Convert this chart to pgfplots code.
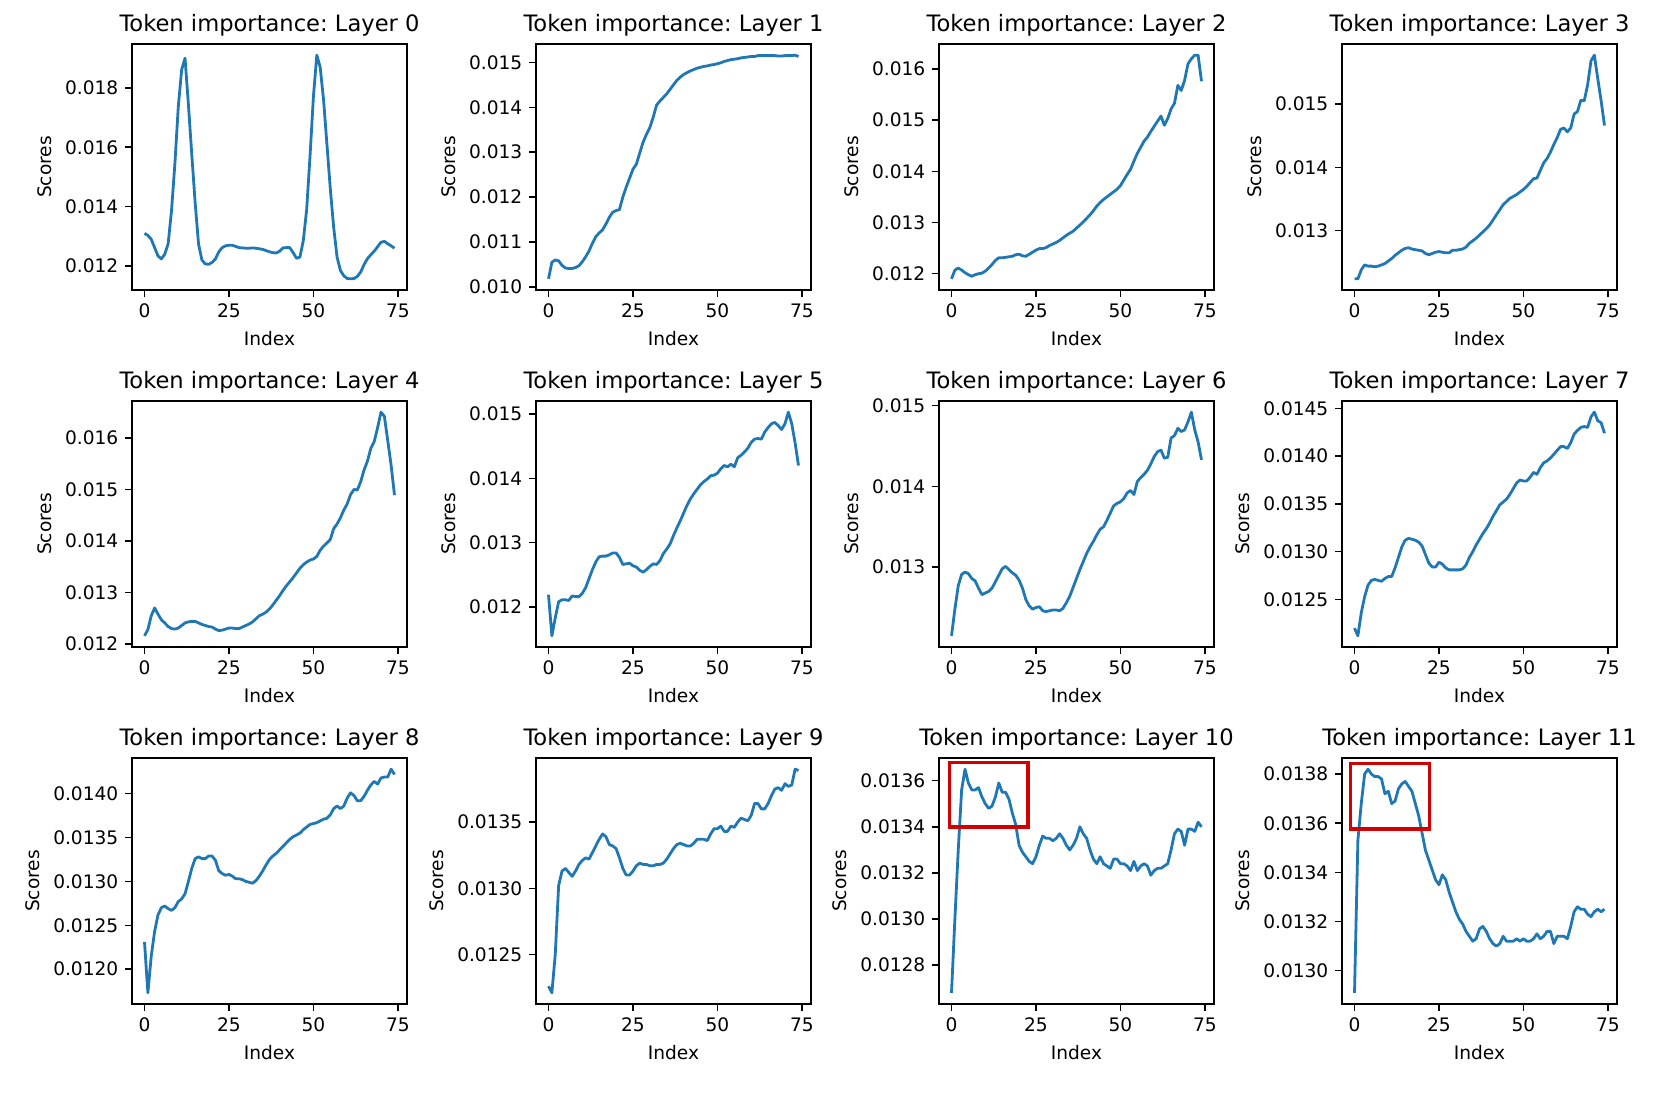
\documentclass[border=0pt]{standalone}
\usepackage{fontspec}
\setmainfont{DejaVu Sans}
\usepackage{pgfplots}
\usepackage{pgfplotstable}
\pgfplotsset{compat=1.18}
\definecolor{mplblue}{RGB}{31,119,180}
\definecolor{boxred}{RGB}{210,0,0}
\frenchspacing

\pgfplotstableread{
idx L0 L1 L2 L3 L4 L5 L6 L7 L8 L9 L10 L11
0 0.01310 0.01018 0.01190 0.01224 0.01216 0.01219 0.01215 0.01220 0.01231 0.01226 0.01268 0.01291
1 0.01303 0.01055 0.01207 0.01224 0.01228 0.01155 0.01248 0.01212 0.01173 0.01221 0.01300 0.01353
2 0.01290 0.01060 0.01211 0.01238 0.01255 0.01183 0.01277 0.01236 0.01215 0.01250 0.01330 0.01368
3 0.01262 0.01058 0.01207 0.01246 0.01270 0.01208 0.01291 0.01253 0.01243 0.01302 0.01356 0.01380
4 0.01234 0.01048 0.01202 0.01244 0.01258 0.01211 0.01294 0.01265 0.01262 0.01313 0.01365 0.01382
5 0.01224 0.01042 0.01198 0.01244 0.01247 0.01211 0.01292 0.01270 0.01270 0.01315 0.01359 0.01380
6 0.01240 0.01041 0.01195 0.01243 0.01241 0.01210 0.01286 0.01271 0.01272 0.01312 0.01356 0.01379
7 0.01275 0.01041 0.01198 0.01244 0.01234 0.01217 0.01283 0.01270 0.01269 0.01309 0.01356 0.01379
8 0.01387 0.01043 0.01200 0.01246 0.01230 0.01216 0.01274 0.01269 0.01267 0.01313 0.01357 0.01378
9 0.01545 0.01047 0.01201 0.01248 0.01229 0.01216 0.01266 0.01272 0.01270 0.01318 0.01353 0.01372
10 0.01736 0.01056 0.01205 0.01252 0.01231 0.01221 0.01268 0.01274 0.01277 0.01321 0.01350 0.01373
11 0.01861 0.01067 0.01211 0.01256 0.01236 0.01230 0.01270 0.01274 0.01280 0.01323 0.01348 0.01368
12 0.01900 0.01080 0.01218 0.01261 0.01241 0.01244 0.01274 0.01283 0.01286 0.01322 0.01349 0.01369
13 0.01743 0.01097 0.01226 0.01265 0.01243 0.01258 0.01282 0.01294 0.01300 0.01327 0.01353 0.01374
14 0.01575 0.01112 0.01231 0.01269 0.01244 0.01270 0.01290 0.01305 0.01315 0.01332 0.01359 0.01376
15 0.01412 0.01120 0.01231 0.01272 0.01244 0.01278 0.01298 0.01312 0.01326 0.01337 0.01355 0.01377
16 0.01274 0.01127 0.01232 0.01273 0.01241 0.01279 0.01301 0.01314 0.01328 0.01341 0.01355 0.01375
17 0.01220 0.01140 0.01233 0.01271 0.01238 0.01279 0.01297 0.01313 0.01326 0.01339 0.01352 0.01373
18 0.01207 0.01155 0.01234 0.01270 0.01236 0.01281 0.01293 0.01312 0.01326 0.01333 0.01346 0.01368
19 0.01206 0.01166 0.01237 0.01269 0.01234 0.01284 0.01290 0.01310 0.01329 0.01332 0.01341 0.01363
20 0.01212 0.01170 0.01238 0.01268 0.01233 0.01284 0.01284 0.01306 0.01329 0.01330 0.01332 0.01356
21 0.01224 0.01172 0.01235 0.01264 0.01229 0.01277 0.01274 0.01297 0.01324 0.01323 0.01329 0.01349
22 0.01248 0.01200 0.01234 0.01262 0.01226 0.01266 0.01260 0.01288 0.01312 0.01315 0.01327 0.01345
23 0.01262 0.01222 0.01238 0.01264 0.01227 0.01267 0.01252 0.01284 0.01309 0.01310 0.01325 0.01341
24 0.01268 0.01242 0.01242 0.01266 0.01229 0.01268 0.01248 0.01284 0.01307 0.01310 0.01324 0.01337
25 0.01270 0.01262 0.01246 0.01267 0.01231 0.01264 0.01250 0.01289 0.01308 0.01313 0.01327 0.01335
26 0.01270 0.01273 0.01249 0.01266 0.01231 0.01262 0.01251 0.01287 0.01306 0.01317 0.01332 0.01339
27 0.01266 0.01298 0.01249 0.01265 0.01230 0.01257 0.01246 0.01283 0.01303 0.01319 0.01336 0.01337
28 0.01262 0.01322 0.01251 0.01265 0.01230 0.01254 0.01245 0.01281 0.01303 0.01318 0.01335 0.01332
29 0.01261 0.01340 0.01255 0.01269 0.01233 0.01258 0.01246 0.01281 0.01302 0.01318 0.01335 0.01328
30 0.01260 0.01355 0.01258 0.01269 0.01236 0.01263 0.01247 0.01281 0.01300 0.01317 0.01334 0.01324
31 0.01260 0.01378 0.01261 0.01270 0.01239 0.01267 0.01247 0.01281 0.01299 0.01317 0.01335 0.01321
32 0.01261 0.01405 0.01265 0.01271 0.01243 0.01266 0.01246 0.01282 0.01298 0.01318 0.01337 0.01319
33 0.01260 0.01414 0.01270 0.01274 0.01249 0.01272 0.01249 0.01286 0.01301 0.01318 0.01335 0.01316
34 0.01258 0.01422 0.01275 0.01280 0.01255 0.01283 0.01256 0.01294 0.01306 0.01319 0.01332 0.01314
35 0.01256 0.01430 0.01279 0.01284 0.01258 0.01290 0.01264 0.01300 0.01312 0.01322 0.01330 0.01312
36 0.01252 0.01440 0.01283 0.01288 0.01262 0.01298 0.01275 0.01307 0.01319 0.01326 0.01332 0.01313
37 0.01248 0.01450 0.01289 0.01293 0.01268 0.01311 0.01286 0.01313 0.01325 0.01330 0.01335 0.01317
38 0.01245 0.01460 0.01295 0.01298 0.01276 0.01323 0.01297 0.01319 0.01329 0.01333 0.01340 0.01318
39 0.01244 0.01467 0.01301 0.01303 0.01285 0.01334 0.01307 0.01324 0.01332 0.01334 0.01337 0.01316
40 0.01250 0.01473 0.01308 0.01309 0.01294 0.01346 0.01317 0.01330 0.01336 0.01333 0.01335 0.01313
41 0.01261 0.01477 0.01315 0.01317 0.01304 0.01358 0.01325 0.01337 0.01340 0.01332 0.01330 0.01311
42 0.01262 0.01481 0.01323 0.01325 0.01313 0.01368 0.01332 0.01343 0.01344 0.01332 0.01326 0.01310
43 0.01262 0.01484 0.01332 0.01333 0.01321 0.01376 0.01340 0.01349 0.01348 0.01334 0.01324 0.01311
44 0.01245 0.01487 0.01339 0.01341 0.01329 0.01383 0.01347 0.01352 0.01351 0.01337 0.01327 0.01314
45 0.01226 0.01489 0.01345 0.01346 0.01338 0.01390 0.01350 0.01355 0.01353 0.01337 0.01324 0.01312
46 0.01230 0.01491 0.01350 0.01351 0.01347 0.01395 0.01358 0.01360 0.01355 0.01337 0.01323 0.01312
47 0.01285 0.01492 0.01355 0.01354 0.01354 0.01399 0.01367 0.01366 0.01359 0.01336 0.01322 0.01312
48 0.01390 0.01494 0.01360 0.01357 0.01359 0.01404 0.01376 0.01372 0.01362 0.01341 0.01326 0.01313
49 0.01570 0.01495 0.01365 0.01361 0.01363 0.01405 0.01379 0.01375 0.01365 0.01345 0.01326 0.01312
50 0.01770 0.01497 0.01372 0.01365 0.01365 0.01408 0.01381 0.01374 0.01366 0.01345 0.01324 0.01313
51 0.01910 0.01499 0.01383 0.01370 0.01370 0.01415 0.01385 0.01374 0.01367 0.01347 0.01324 0.01312
52 0.01870 0.01502 0.01394 0.01376 0.01382 0.01420 0.01392 0.01378 0.01369 0.01343 0.01323 0.01312
53 0.01760 0.01504 0.01404 0.01382 0.01390 0.01418 0.01395 0.01383 0.01371 0.01343 0.01321 0.01313
54 0.01610 0.01506 0.01420 0.01383 0.01396 0.01422 0.01390 0.01381 0.01372 0.01347 0.01325 0.01315
55 0.01460 0.01507 0.01435 0.01395 0.01403 0.01418 0.01406 0.01388 0.01376 0.01346 0.01321 0.01313
56 0.01330 0.01508 0.01447 0.01407 0.01424 0.01432 0.01411 0.01393 0.01383 0.01350 0.01323 0.01314
57 0.01230 0.01510 0.01459 0.01414 0.01433 0.01436 0.01415 0.01395 0.01386 0.01353 0.01324 0.01316
58 0.01185 0.01511 0.01467 0.01424 0.01445 0.01441 0.01420 0.01398 0.01383 0.01352 0.01323 0.01316
59 0.01167 0.01512 0.01478 0.01436 0.01460 0.01447 0.01428 0.01402 0.01386 0.01351 0.01319 0.01311
60 0.01158 0.01513 0.01488 0.01447 0.01472 0.01456 0.01437 0.01406 0.01395 0.01355 0.01321 0.01314
61 0.01157 0.01513 0.01498 0.01460 0.01490 0.01461 0.01443 0.01410 0.01401 0.01364 0.01322 0.01314
62 0.01158 0.01515 0.01508 0.01462 0.01500 0.01462 0.01445 0.01410 0.01398 0.01364 0.01322 0.01314
63 0.01165 0.01515 0.01490 0.01456 0.01499 0.01461 0.01435 0.01408 0.01392 0.01360 0.01323 0.01313
64 0.01180 0.01515 0.01503 0.01462 0.01515 0.01472 0.01436 0.01414 0.01392 0.01360 0.01324 0.01318
65 0.01205 0.01515 0.01522 0.01484 0.01538 0.01479 0.01460 0.01423 0.01397 0.01364 0.01330 0.01324
66 0.01225 0.01515 0.01533 0.01488 0.01555 0.01485 0.01463 0.01427 0.01404 0.01370 0.01337 0.01326
67 0.01238 0.01515 0.01568 0.01506 0.01580 0.01487 0.01472 0.01430 0.01410 0.01375 0.01339 0.01325
68 0.01250 0.01514 0.01558 0.01505 0.01593 0.01482 0.01468 0.01431 0.01414 0.01376 0.01338 0.01325
69 0.01265 0.01514 0.01578 0.01530 0.01620 0.01476 0.01470 0.01430 0.01411 0.01374 0.01332 0.01323
70 0.01280 0.01515 0.01610 0.01568 0.01650 0.01485 0.01480 0.01441 0.01418 0.01379 0.01339 0.01322
71 0.01283 0.01515 0.01620 0.01577 0.01642 0.01503 0.01492 0.01446 0.01419 0.01377 0.01339 0.01324
72 0.01275 0.01515 0.01627 0.01540 0.01595 0.01485 0.01470 0.01437 0.01419 0.01378 0.01338 0.01325
73 0.01268 0.01516 0.01627 0.01505 0.01547 0.01455 0.01455 0.01435 0.01428 0.01390 0.01342 0.01324
74 0.01260 0.01513 0.01576 0.01466 0.01489 0.01420 0.01433 0.01424 0.01422 0.01389 0.01340 0.01325
}\scores

\pgfplotsset{
  tok/.style={
    scale only axis, width=137.5pt, height=123pt,
    anchor=north west,
    enlarge x limits=0.05, enlarge y limits=0.05,
    xtick={0,25,50,75},
    tick align=outside, xtick pos=bottom, ytick pos=left,
    major tick length=3.3pt,
    axis line style={line width=0.75pt},
    every tick/.style={black, line width=0.75pt},
    tick label style={font=\fontsize{9.3}{11}\selectfont},
    label style={font=\fontsize{9.3}{11}\selectfont},
    title style={font=\fontsize{11.3}{13}\selectfont, yshift=-5.6pt},
    xlabel={Index}, ylabel={Scores},
    scaled y ticks=false,
    /pgf/number format/assume math mode=true,
    yticklabel style={/pgf/number format/fixed, /pgf/number format/fixed zerofill},
  },
  p3/.style={yticklabel style={/pgf/number format/precision=3}},
  p4/.style={yticklabel style={/pgf/number format/precision=4}},
  ln/.style={mplblue, line width=1.4pt, mark=none, line join=round},
}

\begin{document}
\begin{tikzpicture}
\path[use as bounding box] (0,0) rectangle (830.5pt,547.5pt);

% Row 1
\begin{axis}[tok, p3, at={(66pt,525.5pt)}, title={Token importance: Layer 0}, ytick={0.012,0.014,0.016,0.018}]
\addplot[ln] table[x=idx,y=L0]{\scores};
\end{axis}
\begin{axis}[tok, p3, at={(268pt,525.5pt)}, title={Token importance: Layer 1}, ytick={0.010,0.011,0.012,0.013,0.014,0.015}]
\addplot[ln] table[x=idx,y=L1]{\scores};
\end{axis}
\begin{axis}[tok, p3, at={(469.5pt,525.5pt)}, title={Token importance: Layer 2}, ytick={0.012,0.013,0.014,0.015,0.016}]
\addplot[ln] table[x=idx,y=L2]{\scores};
\end{axis}
\begin{axis}[tok, p3, at={(671pt,525.5pt)}, title={Token importance: Layer 3}, ytick={0.013,0.014,0.015}]
\addplot[ln] table[x=idx,y=L3]{\scores};
\end{axis}

% Row 2
\begin{axis}[tok, p3, at={(66pt,347pt)}, title={Token importance: Layer 4}, ytick={0.012,0.013,0.014,0.015,0.016}]
\addplot[ln] table[x=idx,y=L4]{\scores};
\end{axis}
\begin{axis}[tok, p3, at={(268pt,347pt)}, title={Token importance: Layer 5}, ytick={0.012,0.013,0.014,0.015}]
\addplot[ln] table[x=idx,y=L5]{\scores};
\end{axis}
\begin{axis}[tok, p3, at={(469.5pt,347pt)}, title={Token importance: Layer 6}, ytick={0.013,0.014,0.015}]
\addplot[ln] table[x=idx,y=L6]{\scores};
\end{axis}
\begin{axis}[tok, p4, at={(671pt,347pt)}, title={Token importance: Layer 7}, ytick={0.0120,0.0125,0.0130,0.0135,0.0140,0.0145}]
\addplot[ln] table[x=idx,y=L7]{\scores};
\end{axis}

% Row 3
\begin{axis}[tok, p4, at={(66pt,168.5pt)}, title={Token importance: Layer 8}, ytick={0.0120,0.0125,0.0130,0.0135,0.0140}]
\addplot[ln] table[x=idx,y=L8]{\scores};
\end{axis}
\begin{axis}[tok, p4, at={(268pt,168.5pt)}, title={Token importance: Layer 9}, ytick={0.0125,0.0130,0.0135}]
\addplot[ln] table[x=idx,y=L9]{\scores};
\end{axis}
\begin{axis}[tok, p4, at={(469.5pt,168.5pt)}, title={Token importance: Layer 10}, ytick={0.0128,0.0130,0.0132,0.0134,0.0136}]
\addplot[ln] table[x=idx,y=L10]{\scores};
\draw[boxred, line width=1.7pt] (axis cs:-0.6,0.01340) rectangle (axis cs:22.7,0.01368);
\end{axis}
\begin{axis}[tok, p4, at={(671pt,168.5pt)}, title={Token importance: Layer 11}, ytick={0.0130,0.0132,0.0134,0.0136,0.0138}]
\addplot[ln] table[x=idx,y=L11]{\scores};
\draw[boxred, line width=1.7pt] (axis cs:-1.2,0.013576) rectangle (axis cs:22.2,0.013843);
\end{axis}
\end{tikzpicture}
\end{document}
